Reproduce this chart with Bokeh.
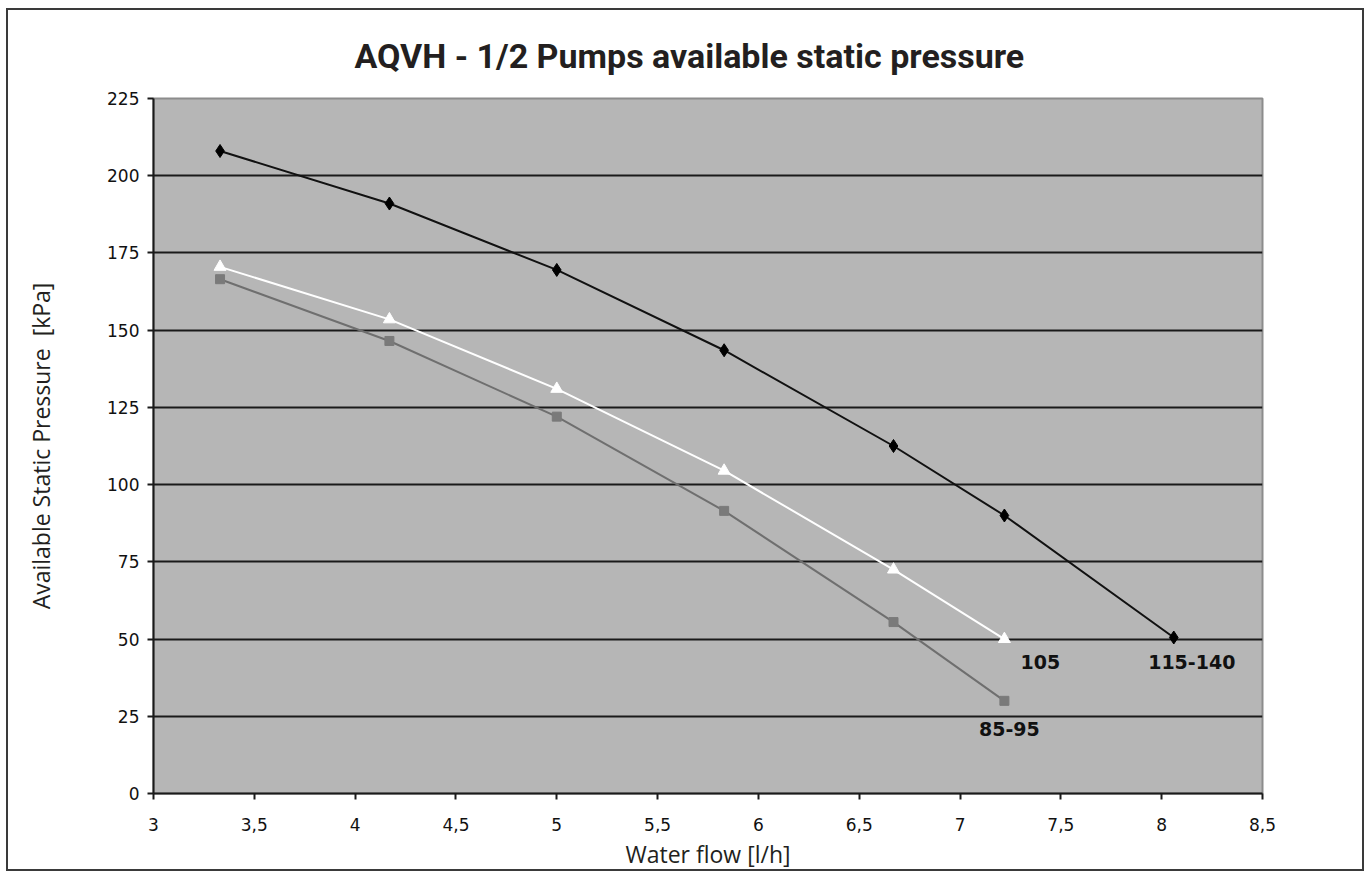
from bokeh.plotting import figure
from bokeh.models import FixedTicker, Label
from bokeh.embed import file_html
from bokeh.resources import INLINE

# data
flow = [3.33, 4.17, 5.0, 5.83, 6.67, 7.22, 8.06]
p_115_140 = [208, 191, 169.5, 143.5, 112.5, 90, 50.5]
p_105 = [170.5, 153.5, 131, 104.5, 72.5, 50]
p_85_95 = [166.5, 146.5, 122, 91.5, 55.5, 30]
series_names = ["115-140", "105", "85-95"]
x_ticks = [3, 3.5, 4, 4.5, 5, 5.5, 6, 6.5, 7, 7.5, 8, 8.5]
x_tick_labels = ["3", "3,5", "4", "4,5", "5", "5,5", "6", "6,5", "7", "7,5", "8", "8,5"]
y_ticks = [0, 25, 50, 75, 100, 125, 150, 175, 200, 225]

p = figure(width=1358, height=863, x_range=(3, 8.5), y_range=(0, 225),
           output_backend="svg", toolbar_location=None,
           min_border_left=145, min_border_right=104, min_border_top=86, min_border_bottom=80,
           title="AQVH - 1/2 Pumps available static pressure")
p.styles = {"border": "2px solid #3a3a3a",
            "margin-top": "8px", "margin-left": "6px"}

p.title.align = "left"
p.title.offset = 201
p.title.text_font = "Roboto"
p.title.text_font_style = "bold"
p.title.text_font_size = "34px"
p.title.text_color = "#231f20"
p.title.standoff = 46

p.background_fill_color = "#b6b6b6"
p.border_fill_color = "white"
p.outline_line_color = "#8c8c8c"
p.outline_line_width = 2

p.xgrid.visible = False
p.ygrid.ticker = FixedTicker(ticks=y_ticks)
p.ygrid.grid_line_color = "#1a1a1a"
p.ygrid.grid_line_width = 2

p.xaxis.ticker = FixedTicker(ticks=x_ticks)
p.xaxis.major_label_overrides = {t: l for t, l in zip(x_ticks, x_tick_labels)}
p.yaxis.ticker = FixedTicker(ticks=y_ticks)

for ax in (p.xaxis[0], p.yaxis[0]):
    ax.axis_line_color = "#1a1a1a"
    ax.axis_line_width = 2
    ax.major_tick_line_color = "#1a1a1a"
    ax.major_tick_line_width = 2
    ax.major_tick_out = 6
    ax.major_tick_in = 0
    ax.minor_tick_line_color = None
    ax.major_label_text_font = "DejaVu Sans"
    ax.major_label_text_font_size = "17px"
    ax.major_label_text_color = "#111111"
    ax.axis_label_text_font = "Open Sans"
    ax.axis_label_text_font_style = "normal"
    ax.axis_label_text_font_size = "23px"
    ax.axis_label_text_color = "#231f20"

p.xaxis.axis_label = "Water flow [l/h]"
p.xaxis.major_label_standoff = 18
p.xaxis.axis_label_standoff = 4
p.yaxis.axis_label = "Available Static Pressure\u00a0\u00a0[kPa]"
p.yaxis.major_label_standoff = 8
p.yaxis.axis_label_standoff = 47

# series
p.line(flow, p_115_140, line_color="#111111", line_width=2)
p.scatter(flow, p_115_140, marker="diamond", size=13, fill_color="#000000", line_color="#000000")

p.line(flow[:len(p_105)], p_105, line_color="#ffffff", line_width=2)
p.scatter(flow[:len(p_105)], p_105, marker="triangle", size=12, fill_color="#ffffff", line_color="#ffffff")

p.line(flow[:len(p_85_95)], p_85_95, line_color="#6f6f6f", line_width=2)
p.scatter(flow[:len(p_85_95)], p_85_95, marker="square", size=9, fill_color="#7a7a7a", line_color="#7a7a7a")

# end labels
ends = [(flow[len(p_115_140) - 1], p_115_140[-1], 18, -24),
        (flow[len(p_105) - 1], p_105[-1], 36, -23),
        (flow[len(p_85_95) - 1], p_85_95[-1], 5, -28)]
for name, (ex, ey, dx, dy) in zip(series_names, ends):
    p.add_layout(Label(x=ex, y=ey, x_offset=dx, y_offset=dy, text=name,
                       text_font="DejaVu Sans", text_font_style="bold",
                       text_font_size="19px", text_color="#111111",
                       text_align="center", text_baseline="middle"))

open("out.html", "w").write(file_html(p, INLINE))
